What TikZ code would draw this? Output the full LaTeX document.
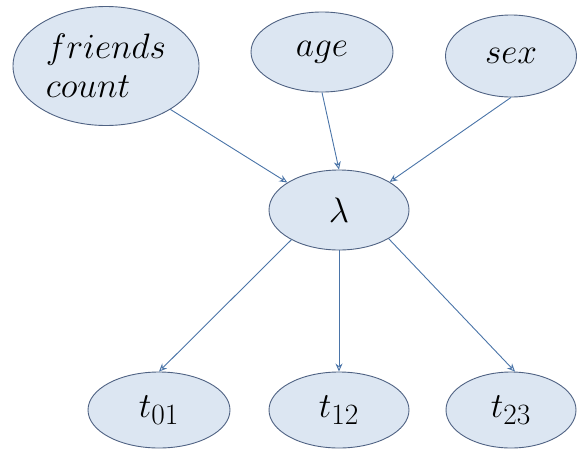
\documentclass[tikz,border=0pt]{standalone}
\usetikzlibrary{shapes.geometric,arrows.meta}
\definecolor{nodefill}{HTML}{DCE6F2}
\definecolor{nodeline}{HTML}{4F6283}
\definecolor{arrowcol}{HTML}{4A74A8}
\newcommand{\vlab}[1]{\scalebox{1.42}{$#1$}}
\begin{document}
\begin{tikzpicture}[x=1pt,y=-1pt,
  var/.style={ellipse,draw=nodeline,fill=nodefill,line width=0.9pt,inner sep=0pt,
    font=\fontsize{24.88}{26}\selectfont},
  conn/.style={draw=arrowcol,line width=0.9pt,-{Stealth[length=8pt,width=7pt,open]}}]
\useasboundingbox (0,0) rectangle (578,450);
\node[var,minimum width=186pt,minimum height=119pt,align=left] (fc) at (106,66) {\vlab{friends}\\[9pt]\vlab{count}};
\node[var,minimum width=142pt,minimum height=80pt] (age) at (322,52) {\vlab{age}};
\node[var,minimum width=131pt,minimum height=82pt] (sex) at (511,56) {\vlab{sex}};
\node[var,minimum width=140pt,minimum height=80pt] (lam) at (339,210) {\vlab{\lambda}};
\node[var,minimum width=142pt,minimum height=76pt] (t01) at (159,410) {\vlab{t_{01}}};
\node[var,minimum width=140pt,minimum height=76pt] (t12) at (339,410) {\vlab{t_{12}}};
\node[var,minimum width=130pt,minimum height=76pt] (t23) at (511,410) {\vlab{t_{23}}};
\draw[conn] (fc.-34) -- (lam.152);
\draw[conn] (age.south) -- (lam.north);
\draw[conn] (sex.south) -- (lam.29);
\draw[conn] (lam.212) -- (t01.north);
\draw[conn] (lam.south) -- (t12.north);
\draw[conn] (lam.-30) -- (t23.84);
\end{tikzpicture}
\end{document}
